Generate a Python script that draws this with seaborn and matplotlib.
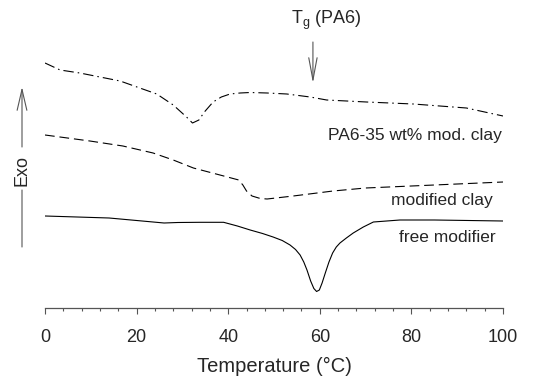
import matplotlib
matplotlib.use("Agg")
import matplotlib.pyplot as plt
import pandas as pd
import seaborn as sns
from matplotlib.ticker import MultipleLocator

# DSC traces, heat flow in arbitrary units (shifted for clarity)
T_COMPOSITE = [0, 3.3, 7.6, 12, 16.4, 20.7, 24.4, 28, 30.9, 32.2, 33.6, 34.8, 36.7,
               38.5, 40.4, 42.6, 44.8, 48.5, 52.8, 57.9, 61.5, 70.2, 80.4, 92, 100]
HF_COMPOSITE = [24.5, 23.8, 23.5, 23.1, 22.7, 22.0, 21.4, 20.3, 19.1, 18.5, 18.8, 19.6,
                20.6, 21.1, 21.4, 21.5, 21.55, 21.5, 21.4, 21.1, 20.8, 20.6, 20.4, 20.0, 19.2]

T_CLAY = [0, 9.8, 17, 23.6, 28, 32.4, 38.2, 42.3, 43.2, 44, 45.2, 47, 48.5, 54.2,
          62.9, 70, 85, 100]
HF_CLAY = [17.3, 16.7, 16.2, 15.5, 14.8, 14.0, 13.3, 12.8, 12.3, 11.7, 11.2, 10.95,
           10.9, 11.2, 11.7, 12.0, 12.3, 12.6]

T_MODIFIER = [0, 14, 26, 29, 33.8, 39, 42, 44.8, 47.5, 49.8, 51.8, 53.5, 54.7, 55.7,
              56.5, 57.2, 58.0, 58.7, 59.3, 59.9, 60.5, 61.2, 62.0, 62.8, 63.6, 64.4,
              65.8, 67.3, 69.5, 71.7, 77.5, 85, 100]
HF_MODIFIER = [9.2, 9.0, 8.5, 8.55, 8.57, 8.57, 8.2, 7.8, 7.45, 7.1, 6.75, 6.3, 5.85,
               5.3, 4.6, 3.8, 2.7, 1.95, 1.65, 1.8, 2.5, 3.5, 4.6, 5.5, 6.1, 6.5,
               7.0, 7.5, 8.1, 8.6, 8.8, 8.8, 8.7]

LABELS = ["PA6-35 wt% mod. clay", "modified clay", "free modifier"]
LABEL_X = [99.8, 97.8, 98.3]
LABEL_Y = [17.3, 10.8, 7.0]

TG_PA6 = 58.5

sns.set_style("ticks")
plt.rcParams["font.family"] = ["Liberation Sans", "DejaVu Sans"]
plt.rcParams["mathtext.fontset"] = "custom"
plt.rcParams["mathtext.rm"] = "Liberation Sans"
plt.rcParams["mathtext.it"] = "Liberation Sans:italic"
plt.rcParams["lines.scale_dashes"] = False

fig = plt.figure(figsize=(5.33, 3.8), dpi=100)
ax = fig.add_axes([45 / 533, 72 / 380, 458 / 533, 308 / 380])

curves = [
    (T_COMPOSITE, HF_COMPOSITE, (0, (7.5, 2.9, 1.1, 2.9))),
    (T_CLAY, HF_CLAY, (0, (7, 3.5))),
    (T_MODIFIER, HF_MODIFIER, "-"),
]
for t, hf, ls in curves:
    df = pd.DataFrame({"T": t, "hf": hf})
    sns.lineplot(data=df, x="T", y="hf", ax=ax, color="black", lw=0.8,
                 linestyle=ls, estimator=None, sort=False)

for text, x, y in zip(LABELS, LABEL_X, LABEL_Y):
    ax.text(x, y, text, ha="right", va="center", fontsize=12.5)

# T_g marker
ax.text(TG_PA6 + 3.0, 28.8, r"T$_{\mathrm{g}}$ (PA6)", ha="center", va="center",
        fontsize=13)
ax.annotate("", xy=(TG_PA6, 22.5), xytext=(TG_PA6, 26.6), annotation_clip=False,
            arrowprops=dict(arrowstyle="->,head_length=1.6,head_width=0.3",
                            color="#555555", lw=0.8, mutation_scale=10,
                            shrinkA=0, shrinkB=0))

# Exo arrow on the left
ax.annotate("", xy=(22 / 533, 1 - 87 / 380), xytext=(22 / 533, 1 - 147 / 380),
            xycoords="figure fraction", textcoords="figure fraction",
            arrowprops=dict(arrowstyle="->,head_length=1.5,head_width=0.35",
                            color="#555555", lw=0.8, mutation_scale=10,
                            shrinkA=0, shrinkB=0))
ax.annotate("", xy=(22 / 533, 1 - 190 / 380), xytext=(22 / 533, 1 - 247 / 380),
            xycoords="figure fraction", textcoords="figure fraction",
            arrowprops=dict(arrowstyle="-", color="#555555", lw=0.8,
                            shrinkA=0, shrinkB=0))
fig.text(22 / 533, 1 - 171 / 380, "Exo", rotation=90, ha="center", va="center",
         fontsize=13)

ax.set_xlim(0, 100)
ax.set_ylim(0, 30.8)
ax.xaxis.set_major_locator(MultipleLocator(20))
ax.xaxis.set_minor_locator(MultipleLocator(4))
ax.tick_params(axis="x", which="major", length=4, width=0.8, color="#555555",
               labelsize=13, pad=11, direction="out")
ax.tick_params(axis="x", which="minor", length=2.5, width=0.8, color="#555555",
               direction="out")
ax.set_yticks([])
ax.set_ylabel("")
ax.set_xlabel("Temperature (°C)", fontsize=14.5, labelpad=8)
for side in ["left", "right", "top"]:
    ax.spines[side].set_visible(False)
ax.spines["bottom"].set_color("#555555")
ax.spines["bottom"].set_linewidth(0.9)
ax.patch.set_alpha(0)

fig.savefig("out.png", dpi=100)
